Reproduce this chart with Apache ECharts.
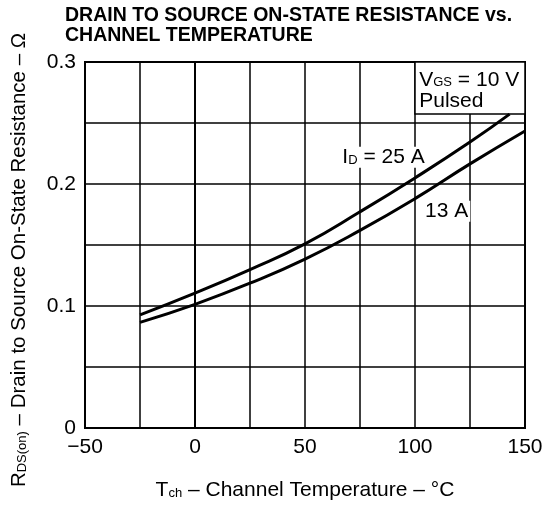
<!DOCTYPE html>
<html>
<head>
<meta charset="utf-8">
<script src="https://cdn.jsdelivr.net/npm/echarts@6/dist/echarts.min.js"></script>
<style>html,body{margin:0;padding:0;background:#fff;}#c{width:549px;height:506px;}</style>
</head>
<body>
<div id="c"></div>
<script>
// Data
const tch25 = [-25, 0, 25, 50, 75, 100, 125, 143];
const rds25 = [0.0928, 0.1106, 0.1299, 0.1509, 0.1772, 0.205, 0.2344, 0.2573];
const tch13 = [-25, 0, 25, 50, 75, 100, 125, 150];
const rds13 = [0.0866, 0.1014, 0.1187, 0.1385, 0.162, 0.188, 0.2165, 0.2435];
const xTickLabels = {'-50': '\u221250', '0': '0', '50': '50', '100': '100', '150': '150'};
const yTickLabels = {'0': '0', '0.1': '0.1', '0.2': '0.2', '0.3': '0.3'};
const seriesNames = ['ID = 25 A', '13 A'];

const FONT = 'Liberation Sans';
const chart = echarts.init(document.getElementById('c'), null, {renderer: 'canvas'});

function pairs(xs, ys) { return xs.map((x, i) => [x, ys[i]]); }
function rich(big, small, lh) {
  return {
    s: {fontSize: big, fontFamily: FONT, color: '#000', lineHeight: lh, verticalAlign: 'bottom'},
    b: {fontSize: small, fontFamily: FONT, color: '#000', lineHeight: small, verticalAlign: 'bottom', padding: [0, 0, 1, 0]}
  };
}

chart.setOption({
  animation: false,
  backgroundColor: '#fff',
  textStyle: {fontFamily: FONT, color: '#000'},
  title: {
    text: 'DRAIN TO SOURCE ON-STATE RESISTANCE vs.\nCHANNEL TEMPERATURE',
    left: 65, top: 6, padding: 0,
    textStyle: {fontFamily: FONT, fontSize: 19.5, fontWeight: 'bold', color: '#000', lineHeight: 20}
  },
  grid: {left: 85, right: 24, top: 62, bottom: 74, show: true, borderColor: '#000', borderWidth: 2, containLabel: false},
  xAxis: {
    type: 'value', min: -50, max: 150, interval: 25,
    axisLine: {show: true, lineStyle: {color: '#000', width: 2}},
    axisTick: {show: false},
    splitLine: {show: true, lineStyle: {color: '#000', width: 1.5}},
    axisLabel: {
      color: '#000', fontSize: 21, fontFamily: FONT, margin: 9,
      formatter: v => (xTickLabels[String(v)] !== undefined ? xTickLabels[String(v)] : '')
    },
    name: '{s|T}{b|ch}{s| \u2013 Channel Temperature \u2013 \u00B0C}',
    nameLocation: 'middle', nameGap: 49,
    nameTextStyle: {color: '#000', rich: rich(21, 13, 24)}
  },
  yAxis: {
    type: 'value', min: 0, max: 0.3, interval: 0.05,
    axisLine: {show: true, lineStyle: {color: '#000', width: 2}},
    axisTick: {show: false},
    splitLine: {show: true, lineStyle: {color: '#000', width: 1.5}},
    axisLabel: {
      color: '#000', fontSize: 21, fontFamily: FONT, margin: 9,
      formatter: v => {
        const k = String(Math.round(v * 100) / 100);
        return yTickLabels[k] !== undefined ? yTickLabels[k] : '';
      }
    },
    name: '{s|R}{b|DS(on)}{s| \u2013 Drain to Source On-State Resistance \u2013 \u03A9}',
    nameLocation: 'middle', nameGap: 55, nameRotate: 90,
    nameTextStyle: {color: '#000', padding: [0, 30, 0, 0], rich: rich(20.5, 13, 22)}
  },
  series: [
    {
      name: seriesNames[0], type: 'line', smooth: 0.5, showSymbol: false,
      data: pairs(tch25, rds25),
      lineStyle: {color: '#000', width: 3}, z: 3,
      markArea: {
        silent: true,
        itemStyle: {color: '#fff', borderColor: '#000', borderWidth: 1.5},
        label: {
          show: true, position: 'insideTopLeft', distance: 5,
          padding: [3, 0, 0, 0],
          formatter: '{s|V}{b|GS}{s| = 10 V}\n{s|Pulsed}',
          rich: rich(21, 13, 21)
        },
        data: [[{coord: [100, 0.2573]}, {coord: [150, 0.3]}]]
      },
      markPoint: {
        silent: true, symbol: 'circle', symbolSize: 0,
        label: {
          show: true, position: 'inside',
          backgroundColor: '#fff', padding: [0, 2],
          formatter: '{s|I}{b|D}{s| = 25 A}',
          rich: rich(21, 13, 21)
        },
        data: [{coord: [85.7, 0.222]}]
      }
    },
    {
      name: seriesNames[1], type: 'line', smooth: 0.5, showSymbol: false,
      data: pairs(tch13, rds13),
      lineStyle: {color: '#000', width: 3}, z: 3,
      markPoint: {
        silent: true, symbol: 'circle', symbolSize: 0,
        label: {show: true, position: 'inside', formatter: '13 A', fontSize: 21, fontFamily: FONT, color: '#000', backgroundColor: '#fff', padding: [0, 2]},
        data: [{coord: [114.4, 0.1777]}]
      }
    }
  ]
});
</script>
</body>
</html>
